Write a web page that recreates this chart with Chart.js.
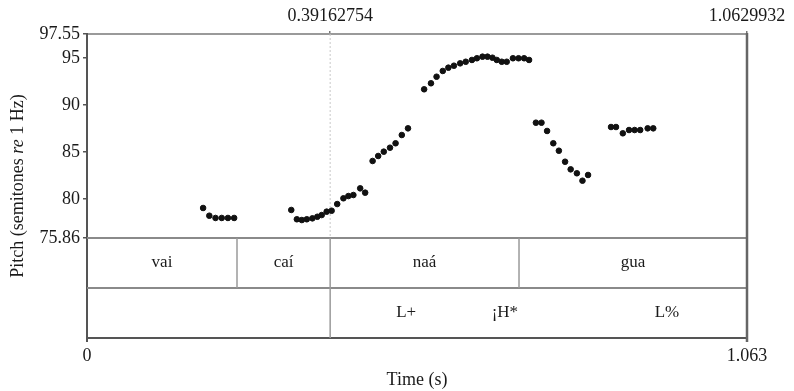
<!DOCTYPE html>
<html lang="en">
<head>
<meta charset="UTF-8">
<title>Pitch track</title>
<script src="https://cdn.jsdelivr.net/npm/chart.js"></script>
<style>
  html, body { margin: 0; padding: 0; background: #fff; }
</style>
</head>
<body>
<canvas id="pitch" width="794" height="391"></canvas>
<script>
// pitch track (s, semitones re 1 Hz)
const times = [
  0.187, 0.197, 0.207, 0.217, 0.227, 0.237,
  0.329, 0.338, 0.346, 0.354, 0.363, 0.371, 0.378, 0.386, 0.394, 0.403, 0.413, 0.421, 0.429, 0.440, 0.448,
  0.460, 0.469, 0.478, 0.488, 0.497, 0.507, 0.517,
  0.543, 0.554, 0.563, 0.573, 0.582, 0.591, 0.601, 0.610, 0.620, 0.628, 0.637, 0.645, 0.653, 0.660, 0.668, 0.676, 0.686, 0.695, 0.704, 0.712,
  0.723, 0.732, 0.741, 0.751, 0.760, 0.770, 0.779, 0.789, 0.798, 0.807,
  0.844, 0.852, 0.863, 0.873, 0.882, 0.891, 0.903, 0.912
];
const pitch = [
  79.05, 78.23, 77.99, 77.99, 77.99, 77.99,
  78.84, 77.85, 77.77, 77.85, 77.95, 78.12, 78.30, 78.66, 78.76, 79.47, 80.08, 80.32, 80.43, 81.14, 80.68,
  84.05, 84.58, 85.04, 85.46, 85.93, 86.81, 87.52,
  91.67, 92.31, 93.01, 93.62, 93.97, 94.18, 94.43, 94.60, 94.79, 94.97, 95.14, 95.14, 95.03, 94.79, 94.60, 94.60, 94.97, 94.97, 94.97, 94.79,
  88.12, 88.12, 87.24, 85.93, 85.14, 83.97, 83.16, 82.74, 81.95, 82.56,
  87.66, 87.66, 86.99, 87.34, 87.34, 87.34, 87.52, 87.52
];

const yTicks = [75.86, 80, 85, 90, 95, 97.55];
const yTickLabels = ['75.86', '80', '85', '90', '95', '97.55'];
const topTicks = [0.39162754, 1.0629932];
const topTickLabels = ['0.39162754', '1.0629932'];
const bottomTicks = [0, 1.0629932];
const bottomTickLabels = ['0', '1.063'];

// TextGrid tiers
const wordBounds = [0, 0.2416, 0.39162754, 0.6958, 1.0629932];
const words = ['vai', 'caí', 'naá', 'gua'];
const toneBounds = [0.39162754];
const tones = ['L+', '¡H*', 'L%'];
const toneTimes = [0.514, 0.673, 0.934];

const serif = '"Liberation Serif", "DejaVu Serif", serif';
const txt = '#1a1a1a';

const textGrid = {
  id: 'textGrid',
  beforeDatasetsDraw(chart) {
    const { ctx, chartArea: a, scales: { x, y } } = chart;
    const floorY = y.getPixelForValue(yTicks[0]);
    ctx.save();
    // dotted cursor line in the pitch pane
    ctx.strokeStyle = '#c8c8c8';
    ctx.lineWidth = 1;
    ctx.setLineDash([2, 2]);
    const cx = x.getPixelForValue(topTicks[0]);
    ctx.beginPath();
    ctx.moveTo(cx, a.top);
    ctx.lineTo(cx, floorY);
    ctx.stroke();
    ctx.restore();
  },
  afterDraw(chart) {
    const { ctx, chartArea: a, scales: { x, y } } = chart;
    const floorY = y.getPixelForValue(yTicks[0]);
    const midY = (floorY + a.bottom) / 2;
    ctx.save();
    // tier separators
    ctx.strokeStyle = '#8a8a8a';
    ctx.lineWidth = 2;
    [floorY, midY].forEach(py => {
      ctx.beginPath();
      ctx.moveTo(a.left, py);
      ctx.lineTo(a.right, py);
      ctx.stroke();
    });
    ctx.strokeStyle = '#9a9a9a';
    ctx.lineWidth = 1.5;
    wordBounds.slice(1, -1).forEach(t => {
      const px = x.getPixelForValue(t);
      ctx.beginPath();
      ctx.moveTo(px, floorY);
      ctx.lineTo(px, midY);
      ctx.stroke();
    });
    toneBounds.forEach(t => {
      const px = x.getPixelForValue(t);
      ctx.beginPath();
      ctx.moveTo(px, midY);
      ctx.lineTo(px, a.bottom);
      ctx.stroke();
    });
    // right frame line
    ctx.strokeStyle = '#666';
    ctx.lineWidth = 2.5;
    ctx.beginPath();
    ctx.moveTo(a.right, a.top - 1);
    ctx.lineTo(a.right, a.bottom + 4);
    ctx.stroke();

    // tier labels
    ctx.fillStyle = txt;
    ctx.font = '17px ' + serif;
    ctx.textAlign = 'center';
    ctx.textBaseline = 'middle';
    words.forEach((w, i) => {
      const px = (x.getPixelForValue(wordBounds[i]) + x.getPixelForValue(wordBounds[i + 1])) / 2;
      ctx.fillText(w, px, (floorY + midY) / 2);
    });
    tones.forEach((w, i) => {
      ctx.fillText(w, x.getPixelForValue(toneTimes[i]), (midY + a.bottom) / 2);
    });

    // y title with italic "re"
    const parts = [['Pitch (semitones ', 'normal'], ['re', 'italic'], [' 1 Hz)', 'normal']];
    let total = 0;
    parts.forEach(p => { ctx.font = p[1] + ' 18px ' + serif; total += ctx.measureText(p[0]).width; });
    ctx.translate(18, (a.top + a.bottom) / 2);
    ctx.rotate(-Math.PI / 2);
    ctx.textAlign = 'left';
    let pos = -total / 2;
    parts.forEach(p => {
      ctx.font = p[1] + ' 18px ' + serif;
      ctx.fillText(p[0], pos, 0);
      pos += ctx.measureText(p[0]).width;
    });
    ctx.restore();
  }
};

const tickFont = { family: serif, size: 18 };

new Chart(document.getElementById('pitch').getContext('2d'), {
  type: 'scatter',
  data: {
    datasets: [{
      data: times.map((t, i) => ({ x: t, y: pitch[i] })),
      backgroundColor: '#111',
      borderColor: '#111',
      pointRadius: 2.8,
      pointHoverRadius: 2.8
    }]
  },
  options: {
    responsive: false,
    devicePixelRatio: 1,
    animation: false,
    layout: { padding: { left: 0, right: 47, top: 0, bottom: 0 } },
    plugins: { legend: { display: false }, tooltip: { enabled: false } },
    scales: {
      x: {
        type: 'linear',
        position: 'bottom',
        min: 0,
        max: 1.0629932,
        afterFit(s) { s.height = 53; },
        afterBuildTicks(s) { s.ticks = bottomTicks.map(v => ({ value: v })); },
        ticks: { callback: (v, i) => bottomTickLabels[i], autoSkip: false, maxRotation: 0, padding: 3, font: tickFont, color: txt },
        grid: { drawOnChartArea: false, tickLength: 4, color: '#555', lineWidth: 2 },
        border: { color: '#555', width: 2 },
        title: { display: true, text: 'Time (s)', font: tickFont, color: txt, padding: { top: 0, bottom: 0 } }
      },
      x2: {
        type: 'linear',
        position: 'top',
        min: 0,
        max: 1.0629932,
        afterFit(s) { s.height = 34; },
        afterBuildTicks(s) { s.ticks = topTicks.map(v => ({ value: v })); },
        ticks: { callback: (v, i) => topTickLabels[i], autoSkip: false, maxRotation: 0, padding: 4, font: tickFont, color: txt },
        grid: { drawOnChartArea: false, tickLength: 3, color: '#777', lineWidth: 1.5 },
        border: { color: '#9a9a9a', width: 2 }
      },
      y: {
        min: 65.227,
        max: 97.55,
        afterFit(s) { s.width = 87; },
        afterBuildTicks(s) { s.ticks = yTicks.map(v => ({ value: v })); },
        ticks: { callback: (v, i) => yTickLabels[i], autoSkip: false, padding: 3, font: tickFont, color: txt },
        grid: { drawOnChartArea: false, tickLength: 4, color: '#555', lineWidth: 1.5 },
        border: { color: '#555', width: 2 }
      }
    }
  },
  plugins: [textGrid]
});
</script>
</body>
</html>
